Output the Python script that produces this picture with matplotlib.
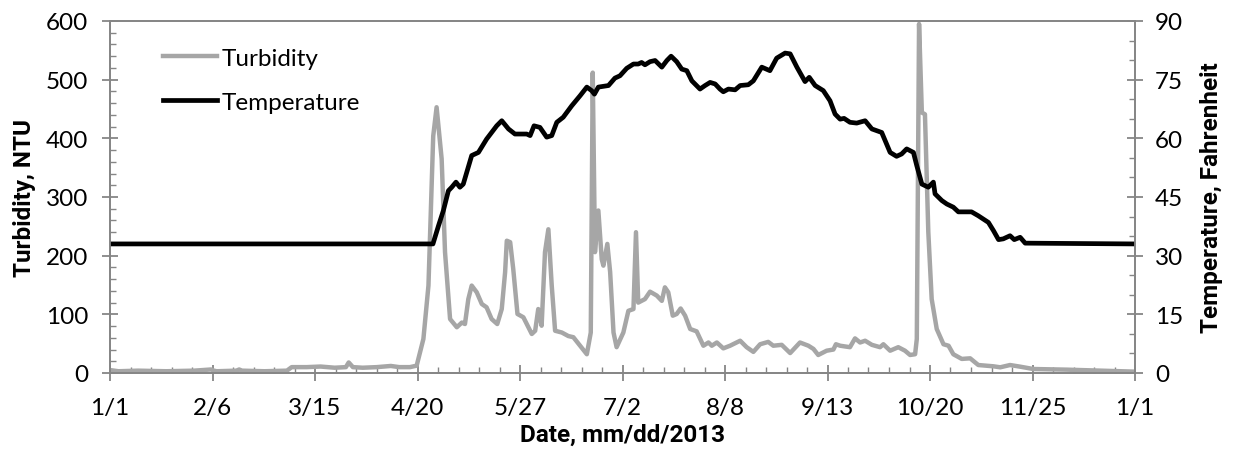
import matplotlib
matplotlib.use("Agg")
import matplotlib.pyplot as plt
from matplotlib.ticker import MultipleLocator

plt.rcParams['font.family'] = ['Lato', 'DejaVu Sans']

# day of year (0 = Jan 1) and turbidity in NTU
turb_day = [0, 3, 10, 20, 30, 36, 37, 38, 45, 46,
            47, 55, 63, 64.7, 70, 75, 80, 84, 85, 86.5,
            90, 95, 100, 103, 106.8,
            109.2, 111.6, 113.4, 115.1, 116.3, 118.1, 119.3, 121.1, 123.5, 125.3,
            126.4, 127.6, 128.8, 130.6, 132.4, 134.1, 135.9, 137.9, 139.5, 140.7,
            141.3, 142.5, 143.6, 145.1, 147.2, 148.4, 150.2, 151.4, 152.5, 153.7,
            154.9, 156.1, 157.3, 158.5, 160.9, 163.2, 165.0, 167.4, 169.8,
            171.2, 171.9, 172.7, 173.9, 175.1, 175.7, 177.1, 178.1, 179.3, 180.4,
            182.8, 184.6, 186.4, 187.3, 188.1, 190.5, 192.3, 194.7, 196.5, 197.6,
            198.8, 200.4, 201.8, 203.2, 204.8, 206.6, 208.9, 211.3, 213.1, 214.3,
            216.1, 218.4, 220.8, 224.4, 226.7, 229.1, 231.5, 234.4, 236.2, 239.2,
            242.2, 245.7, 248.7, 250.5, 252.2, 255.2, 257.6, 258.5, 260, 263.5,
            265.3, 267.1, 268.9, 271.3, 274.2, 275.4, 277.8, 280.7, 283.1, 284.9,
            286.7,
            287.3, 288.1, 289.1, 290.2, 291.4, 292.6, 294.4, 296.8, 298.6, 300.3,
            303.3, 306.3, 309.2, 314.6, 317, 320.5, 324.1, 328.8, 340.7, 352.6,
            365]
turb_ntu = [5, 3, 4, 3, 4, 6, 4, 3, 4, 6,
            4, 3, 4, 10, 10, 11, 9, 10, 18, 10,
            9, 10, 12, 10, 10,
            12.5, 58, 149, 404, 453, 365, 206, 92, 78, 86,
            83.5, 126, 149, 137.5, 117.6, 112, 92, 83.5, 109, 172,
            225.5, 223, 177, 100.6, 95, 83.5, 66.5, 72, 109, 80.6,
            206, 245, 149, 72, 69, 63, 61, 46.5, 32,
            69, 512, 206, 277, 194, 183, 220, 172, 69, 44,
            69, 106, 109, 240, 120, 126, 138.6, 132, 123, 146,
            137.5, 97.7, 100.6, 110, 97.7, 75, 71, 46.5, 52, 46.5,
            52, 42, 46.5, 55, 44, 36, 49, 53, 46.5, 48,
            34, 52, 46.5, 41, 30.7, 38, 40, 49, 46.5, 44,
            59, 52, 55, 48, 44, 49, 38, 44, 38, 30.7,
            32,
            58, 595, 444, 441, 240, 126, 75, 49, 46.5, 32,
            24, 25, 13.6, 11.4, 9.7, 13.6, 10.8, 6.8, 5.7, 4,
            2.3]

# day of year and water temperature in Fahrenheit
temp_day = [0, 115, 117, 118.7, 120.5, 121.7, 123.2, 124.6, 125.8, 128.8,
            131.2, 134.1, 137.7, 139.5, 141.9, 144.2, 148.4, 149.6, 151, 153.1,
            155.5, 157.3, 159.1, 161.4, 164.4, 167.4, 169.8, 171.5, 172.5, 173.9,
            177.5, 179.8, 181.6, 184, 186.4, 188.1, 189.3, 190.5, 192.3, 194.1,
            196.5, 198.3, 199.8, 201.8, 203.6, 205.4, 207.2, 210.1, 211.9, 213.7,
            215.5, 217.2, 218.4, 220.2, 222.6, 224.4, 227.3, 229.1, 232.1, 235.0,
            237.4, 240.4, 242.2, 244.6, 247.5, 249.0, 251.1, 254.0, 256.4, 258.2,
            260.0, 261.4, 263.5, 265.9, 268.9, 271.3, 274.8, 277.8, 280.1, 281.9,
            283.7, 286.1, 287.3, 289.1, 291.4, 293.2, 293.8, 296.2, 298.0, 300.3,
            302.1, 306.8, 309.2, 312.8, 314.6, 316.4, 318.1, 320.5, 322.0, 324.1,
            325.9, 365]
temp_f = [33, 33, 37.7, 41.5, 46.6, 47.5, 48.8, 47.5, 48.3, 55.6,
          56.4, 59.8, 63.2, 64.5, 62.4, 61.1, 61.1, 60.7, 63.2, 62.8,
          60.3, 60.7, 64.1, 65.4, 68.3, 70.9, 73.1, 72.2, 71.3, 73.1,
          73.5, 75.4, 76.0, 77.9, 79.0, 79.0, 79.4, 78.8, 79.6, 79.9,
          78.2, 79.9, 81.0, 79.6, 77.7, 77.3, 74.7, 72.6, 73.5, 74.3,
          73.9, 72.6, 71.9, 72.6, 72.4, 73.5, 73.7, 74.7, 78.2, 77.3,
          80.5, 81.8, 81.6, 78.2, 74.5, 75.6, 73.5, 72.2, 69.6, 66.2,
          64.9, 65.1, 64.1, 63.9, 64.5, 62.4, 61.5, 56.4, 55.4, 56.0,
          57.3, 56.4, 53.0, 48.3, 47.5, 48.8, 45.8, 44.1, 43.2, 42.4,
          41.2, 41.2, 40.2, 38.5, 36.4, 34.1, 34.3, 35.1, 34.1, 34.7,
          33.2, 33]

date_labels = ['1/1', '2/6', '3/15', '4/20', '5/27', '7/2',
               '8/8', '9/13', '10/20', '11/25', '1/1']

axis_gray = '#868686'
label_font = dict(family=['Roboto', 'DejaVu Sans'], fontsize=17.5, fontweight='bold')

fig = plt.figure(figsize=(12.33, 4.52), dpi=100)
ax = fig.add_axes([110/1233, 78/452, 1025/1233, 352/452])
ax2 = ax.twinx()

l1, = ax.plot(turb_day, turb_ntu, color='#A6A6A6', lw=3.2, label='Turbidity',
              solid_joinstyle='round')
l2, = ax2.plot(temp_day, temp_f, color='black', lw=3.4, label='Temperature',
               solid_joinstyle='round')

ax.set_xlim(0, 365)
ax.set_ylim(0, 600)
ax2.set_ylim(0, 90)

step = 365 / 10
ax.set_xticks([i * step for i in range(11)])
ax.set_xticklabels(date_labels)
ax.xaxis.set_minor_locator(MultipleLocator(step / 5))
ax.yaxis.set_major_locator(MultipleLocator(100))
ax.yaxis.set_minor_locator(MultipleLocator(20))
ax2.yaxis.set_major_locator(MultipleLocator(15))
ax2.yaxis.set_minor_locator(MultipleLocator(5))

for a in (ax, ax2):
    for s in a.spines.values():
        s.set_color(axis_gray)
        s.set_linewidth(1.3)
    a.tick_params(which='major', direction='inout', length=11, width=1.3,
                  color=axis_gray, labelsize=17.5, labelcolor='black')
    a.tick_params(which='minor', direction='in', length=4.5, width=1.0,
                  color=axis_gray)
ax.tick_params(axis='x', which='major', pad=12)
ax.tick_params(axis='y', which='major', pad=10)
ax2.tick_params(axis='y', which='major', pad=9)

ax.set_xlabel('Date, mm/dd/2013', labelpad=3, **label_font)
ax.set_ylabel('Turbidity, NTU', labelpad=7, **label_font)
ax2.set_ylabel('Temperature, Fahrenheit', labelpad=12, **label_font)

ax2.legend(handles=[l1, l2], loc='upper left', bbox_to_anchor=(0.052, 0.924),
           frameon=False, fontsize=17.5, handlelength=2.2, handletextpad=0.2,
           labelspacing=0.95, borderpad=0, borderaxespad=0)

fig.savefig('out.png', dpi=100)
